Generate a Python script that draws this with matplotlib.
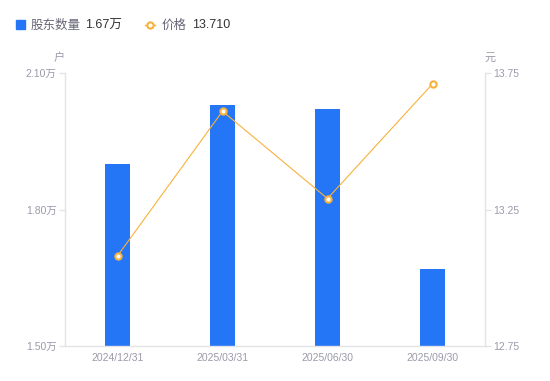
import matplotlib
matplotlib.use('Agg')
import matplotlib.pyplot as plt
import numpy as np

# data
dates = ['2024/12/31', '2025/03/31', '2025/06/30', '2025/09/30']
holders = [1.90, 2.03, 2.02, 1.67]      # 万户
price = [13.08, 13.61, 13.29, 13.71]    # 元
left_ticks = [1.50, 1.80, 2.10]
right_ticks = [12.75, 13.25, 13.75]

BLUE = '#2476f6'
ORANGE = '#f8b23a'
GRAY = '#9a9aaa'
AXIS = '#e3e3e8'
DARK = '#333333'

plt.rcParams['font.family'] = ['Liberation Sans', 'Noto Sans CJK SC', 'DejaVu Sans']

fig = plt.figure(figsize=(5.5, 3.81), dpi=100)
ax = fig.add_axes([65/550, 35/381, 420/550, 273/381])
ax2 = ax.twinx()

x = np.arange(len(dates))
ax.bar(x, holders, width=0.24, color=BLUE, zorder=2)
ax.set_xlim(-0.5, len(dates) - 0.5)
ax.set_ylim(left_ticks[0], left_ticks[-1])
ax.set_yticks(left_ticks)
ax.set_yticklabels([f'{v:.2f}万' for v in left_ticks])
ax.set_xticks(x)
ax.set_xticklabels(dates)

ax2.plot(x, price, color=ORANGE, linewidth=0.8, marker='o', markersize=4.5,
         markerfacecolor='white', markeredgecolor=ORANGE, markeredgewidth=1.5, zorder=3)
ax2.set_ylim(right_ticks[0], right_ticks[-1])
ax2.set_yticks(right_ticks)
ax2.set_yticklabels([f'{v:.2f}' for v in right_ticks])

for a in (ax, ax2):
    a.spines['top'].set_visible(False)
    for s in ('left', 'right', 'bottom'):
        a.spines[s].set_color(AXIS)
        a.spines[s].set_linewidth(1)
    a.tick_params(axis='both', colors=AXIS, labelcolor=GRAY, labelsize=7.5,
                  length=4, width=1, pad=2)
ax.tick_params(axis='x', length=0, pad=5)
ax.spines['right'].set_visible(False)
ax2.spines['left'].set_visible(False)
ax2.spines['bottom'].set_visible(False)

# units
fig.text(59/550, 1 - 58/381, '户', color=GRAY, fontsize=8, ha='center', va='center')
fig.text(490/550, 1 - 58/381, '元', color=GRAY, fontsize=8, ha='center', va='center')

# legend
ly = 1 - 25.5/381
fig.patches.append(plt.Rectangle((16/550, 1 - 29/381), 9/550, 9/381, color=BLUE,
                                 transform=fig.transFigure, figure=fig))
fig.text(31/550, ly, '股东数量', color='#666677', fontsize=9, va='center')
fig.text(85/550, ly, f'{holders[-1]:.2f}万', color=DARK, fontsize=9, va='center')
fig.lines.append(plt.Line2D([145/550, 155/550], [1 - 24.5/381] * 2, color=ORANGE, linewidth=1,
                            transform=fig.transFigure, figure=fig))
fig.lines.append(plt.Line2D([150/550], [1 - 24.5/381], color=ORANGE, marker='o', markersize=4.5,
                            markerfacecolor='white', markeredgewidth=1.5,
                            transform=fig.transFigure, figure=fig))
fig.text(162/550, ly, '价格', color='#666677', fontsize=9, va='center')
fig.text(192/550, ly, f'{price[-1]:.3f}', color=DARK, fontsize=9, va='center')

fig.savefig('out.png', dpi=100)
